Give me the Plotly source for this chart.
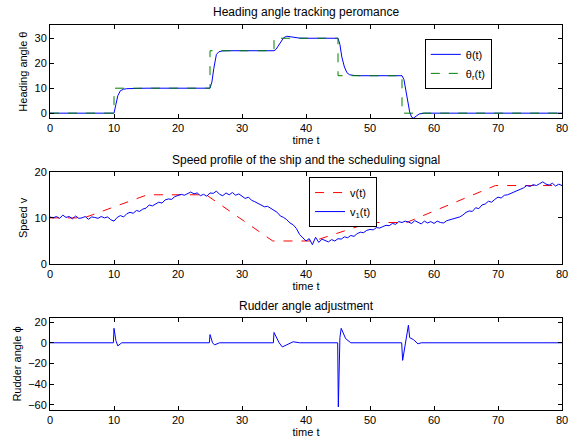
import plotly.graph_objects as go

# ---------------- data ----------------
# Heading angle reference (step signal)
theta_r_t = [0, 10, 10, 25, 25, 35, 35, 45, 45, 55, 55, 80]
theta_r = [0, 0, 10, 10, 25, 25, 30, 30, 15, 15, 0, 0]

# Heading angle response
theta_t = [0, 10, 10.3, 10.6, 11, 11.5, 12, 13, 15, 25, 25.3, 25.6, 26, 26.4, 27, 28, 35, 35.3,
           35.7, 36.1, 36.5, 37, 37.5, 38, 39, 40, 45, 45.3, 45.6, 46, 46.4, 46.8, 47.5, 48.5,
           55, 55.3, 55.6, 55.9, 56.2, 56.5, 56.8, 57.2, 57.7, 58.5, 80]
theta = [0, 0, 3.5, 7.0, 9.0, 9.6, 9.8, 9.95, 10, 10, 12.5, 18, 23.5, 24.6, 24.95, 25, 25, 25.5,
         27, 28.8, 30.2, 30.8, 30.6, 30.3, 30.05, 30, 30, 27.5, 22.5, 18.5, 16.2, 15.4, 15.1, 15,
         15, 13.5, 9.0, 4.0, 0.5, -1.6, -2.0, -1.2, -0.3, 0, 0]

# Speed scheduling signal v(t)
v_t = [0, 5.3, 15.2, 24.4, 34.8, 41.2, 50.0, 55.7, 69.6, 80]
v = [10, 10, 15, 15, 5, 5, 9, 9, 17, 17]

# Measured speed v1(t), sampled every 0.5 s
v1_t = [i * 0.5 for i in range(161)]
v1 = [10.2, 10.0, 10.3, 9.9, 10.6, 10.1, 10.3, 9.8, 10.4, 9.9,
      10.0, 10.3, 9.7, 10.2, 10.1, 9.9, 10.3, 10.0, 10.2, 9.6,
      9.3, 10.1, 10.5, 10.2, 10.9, 11.2, 11.0, 11.6, 11.4, 11.9,
      12.1, 12.8, 12.6, 13.1, 13.4, 13.2, 13.9, 14.1, 14.0, 14.6,
      14.8, 15.1, 14.9, 15.3, 15.6, 15.2, 15.4, 14.8, 15.1, 14.7,
      15.4, 15.3, 15.8, 15.1, 14.8, 15.4, 15.0, 15.5, 14.9, 15.2,
      14.6, 14.2, 14.5, 13.8, 13.5, 13.1, 12.8, 12.4, 12.5, 12.0,
      11.6, 11.2, 10.4, 10.1, 9.6, 8.9, 8.5, 7.7, 6.4, 5.6,
      5.0, 5.5, 4.2, 5.8, 4.7, 5.4, 5.1, 4.8, 5.3, 5.0,
      5.5, 5.4, 5.9, 5.7, 6.2, 6.0, 6.6, 6.9, 6.8, 7.3,
      7.5, 7.4, 7.9, 7.8, 8.1, 8.4, 8.3, 8.8, 8.6, 9.2,
      9.0, 9.3, 9.1, 8.8, 9.4, 9.0, 8.7, 9.3, 8.9, 9.2,
      8.8, 9.3, 9.0, 8.9, 9.4, 9.6, 9.8, 10.1, 10.2, 10.6,
      11.2, 11.5, 11.4, 12.2, 12.0, 12.8, 13.0, 13.6, 13.4, 14.0,
      14.5, 14.3, 14.9, 15.0, 15.3, 15.6, 15.8, 16.2, 16.5, 17.0,
      16.8, 17.2, 17.0, 17.4, 17.8, 17.3, 17.1, 17.5, 16.9, 17.3,
      17.0]

# Rudder angle
phi_t = [0, 9.9, 10.0, 10.3, 10.6, 11.2, 24.9, 25.0, 25.4, 25.7, 26.5, 34.9, 35.0, 35.4, 35.8,
         36.3, 37.2, 38.0, 39.0, 44.95, 45.05, 45.3, 45.5, 45.8, 46.2, 47.0, 54.95, 55.1, 55.4,
         55.6, 55.8, 56.0, 56.2, 56.8, 57.5, 58.0, 80]
phi = [0, 0, 14, 2, -3, 0, 0, 8, 0, -2, 0, 0, 10, 5, 0,
       -4, -1.5, 1, 0, 0, -62, 5, 14, 10, 4, 0, 0, -17, -6,
       2, 6, 17, 5, 3, -1, 0, 0]

x_ticks = [0, 10, 20, 30, 40, 50, 60, 70, 80]

# ---------------- figure ----------------
fig = go.Figure()
FONT = "Liberation Sans, Arial, sans-serif"

fig.add_trace(go.Scatter(x=theta_t, y=theta, mode="lines", name="θ(t)",
                         line=dict(color="#0000ff", width=1), xaxis="x", yaxis="y",
                         legend="legend"))
fig.add_trace(go.Scatter(x=theta_r_t, y=theta_r, mode="lines", name="θ<sub>r</sub>(t)",
                         line=dict(color="#008000", width=1, dash="dash"), xaxis="x", yaxis="y",
                         legend="legend"))
fig.add_trace(go.Scatter(x=v_t, y=v, mode="lines", name="v(t)",
                         line=dict(color="#ff0000", width=1, dash="dash"), xaxis="x2", yaxis="y2",
                         legend="legend2"))
fig.add_trace(go.Scatter(x=v1_t, y=v1, mode="lines", name="v<sub>1</sub>(t)",
                         line=dict(color="#0000ff", width=1), xaxis="x2", yaxis="y2",
                         legend="legend2"))
fig.add_trace(go.Scatter(x=phi_t, y=phi, mode="lines", name="phi",
                         line=dict(color="#0000ff", width=1), xaxis="x3", yaxis="y3",
                         showlegend=False))

def xax(anchor):
    return dict(range=[0, 80], tickvals=x_ticks, domain=[0, 1], anchor=anchor,
                showline=True, linecolor="black", linewidth=1, mirror="allticks",
                ticks="inside", ticklen=4, tickcolor="black", showgrid=False, zeroline=False,
                automargin=False,
                title=dict(text="time t", standoff=2, font=dict(size=11)),
                tickfont=dict(size=11))

def yax(anchor, dom, rng, tv, title):
    return dict(range=rng, tickvals=tv, domain=dom, anchor=anchor,
                showline=True, linecolor="black", linewidth=1, mirror="allticks",
                ticks="inside", ticklen=4, tickcolor="black", showgrid=False, zeroline=False,
                automargin=False,
                title=dict(text=title, standoff=4, font=dict(size=11)),
                tickfont=dict(size=11))

d1 = [0.758, 1.0]
d2 = [0.379, 0.619]
d3 = [0.0, 0.239]

fig.update_layout(
    width=580, height=440,
    margin=dict(l=50, r=18, t=25, b=30),
    paper_bgcolor="white", plot_bgcolor="white",
    font=dict(family=FONT, size=11, color="black"),
    xaxis=xax("y"), yaxis=yax("x", d1, [-2, 35.3], [0, 10, 20, 30], "Heading angle θ"),
    xaxis2=xax("y2"), yaxis2=yax("x2", d2, [0, 20], [0, 10, 20], "Speed v"),
    xaxis3=xax("y3"), yaxis3=yax("x3", d3, [-65, 24], [-60, -40, -20, 0, 20], "Rudder angle ϕ"),
    legend=dict(x=0.732, y=0.964, xanchor="left", yanchor="top", bgcolor="white",
                bordercolor="black", borderwidth=1, font=dict(size=11),
                tracegroupgap=0, itemwidth=30),
    legend2=dict(x=0.506, y=0.605, xanchor="left", yanchor="top", bgcolor="white",
                 bordercolor="black", borderwidth=1, font=dict(size=11),
                 tracegroupgap=0, itemwidth=30),
    showlegend=True,
)

titles = [("Heading angle tracking peromance", 12),
          ("Speed profile of the ship and the scheduling signal", 160),
          ("Rudder angle adjustment", 306)]
for text, ypx in titles:
    fig.add_annotation(text=text, x=0.5, xref="paper", y=1 - (ypx - 25) / 385,
                       yref="paper", yanchor="middle", showarrow=False, font=dict(size=12))

fig.write_html("out.html", config={"displayModeBar": False},
               post_script="document.body.style.margin='0';")
